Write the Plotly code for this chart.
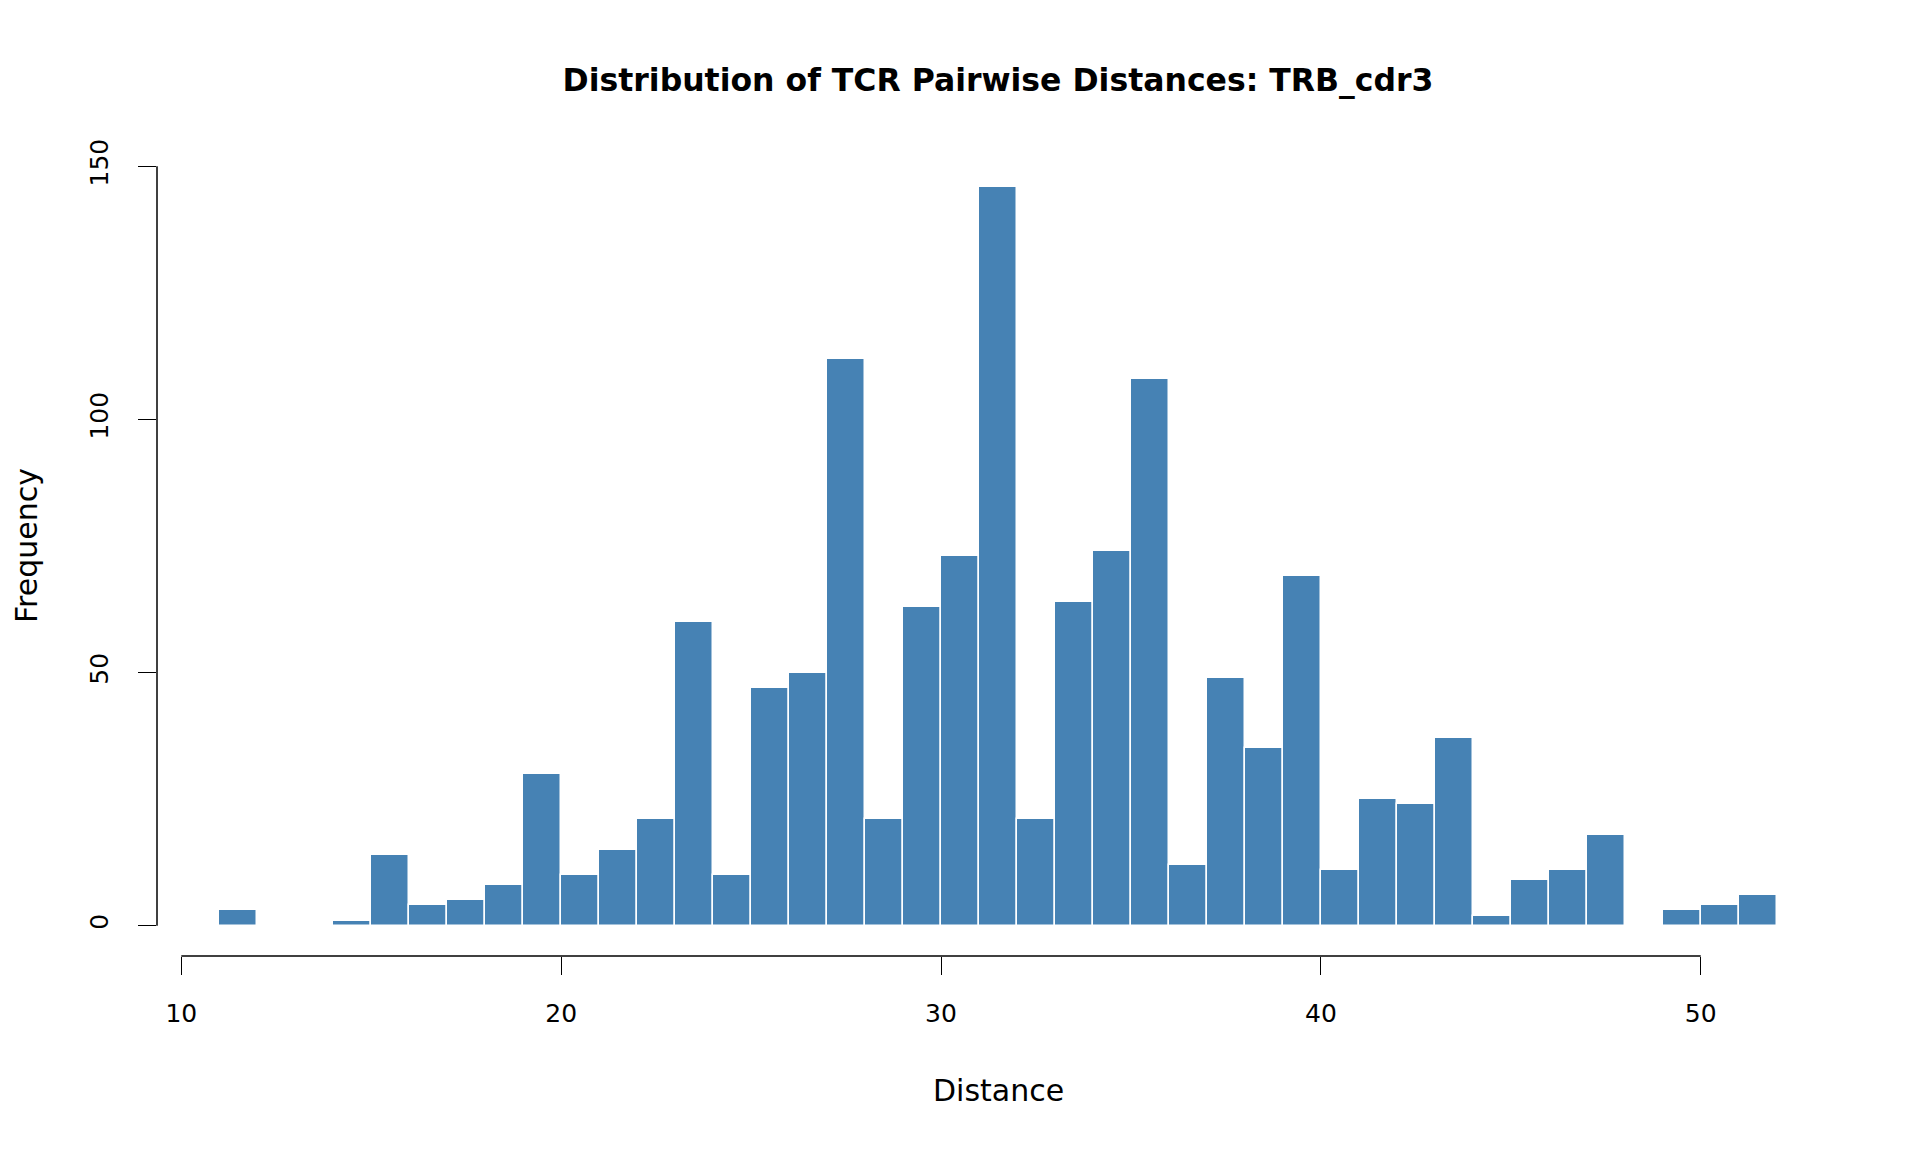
import plotly.graph_objects as go

bin_starts = list(range(11, 52))
counts = [3, 0, 0, 1, 14, 4, 5, 8, 30, 10, 15, 21, 60, 10, 47, 50, 112, 21, 63, 73,
          146, 21, 64, 74, 108, 12, 49, 35, 69, 11, 25, 24, 37, 2, 9, 11, 18, 0, 3, 4, 6]
x_ticks = [10, 20, 30, 40, 50]
y_ticks = [0, 50, 100, 150]

centers = [b + 0.5 for b in bin_starts]
FONT = "DejaVu Sans"
OFF = 8  # page body margin

L, R, T, B = 157 - OFF, 1839 - OFF, 136 - OFF, 956 - OFF
W, H = 1920, 1152

fig = go.Figure()
fig.add_trace(go.Bar(
    x=centers, y=counts, width=[1] * len(centers),
    marker=dict(color="#4682B4", line=dict(color="white", width=1.5)),
    hoverinfo="x+y",
))

fig.update_layout(
    width=W, height=H,
    margin=dict(l=L, r=W - R, t=T, b=H - B),
    paper_bgcolor="white", plot_bgcolor="white",
    showlegend=False,
    bargap=0,
    font=dict(family=FONT, color="black", size=25),
    title=dict(text="<b>Distribution of TCR Pairwise Distances: TRB_cdr3</b>",
               x=((L + R) / 2) / W, xanchor="center", y=1 - (80 - OFF) / H, yanchor="middle",
               font=dict(family=FONT, size=31.5, color="black")),
    xaxis=dict(range=[9.36, 53.64], showgrid=False, zeroline=False, showline=False,
               tickmode="array", tickvals=x_ticks, ticktext=[str(v) for v in x_ticks],
               ticks="outside", ticklen=18, tickwidth=1.2, tickcolor="black",
               ticklabelstandoff=17, tickfont=dict(size=25)),
    yaxis=dict(range=[-6, 156], showgrid=False, zeroline=False, showline=False,
               tickmode="array", tickvals=y_ticks, ticktext=[str(v) for v in y_ticks],
               ticks="outside", ticklen=18, tickwidth=1.2, tickcolor="black",
               tickangle=-90, ticklabelstandoff=20, tickfont=dict(size=25)),
)

# R-style detached axis lines
fig.add_shape(type="line", xref="x", yref="paper", x0=10, x1=50, y0=0, y1=0,
              line=dict(color="black", width=1.5))
fig.add_shape(type="line", xref="paper", yref="y", x0=0, x1=0, y0=0, y1=150,
              line=dict(color="black", width=1.5))

fig.add_annotation(text="Distance", xref="paper", yref="paper",
                   x=0.5, y=-(1090 - 956) / (B - T), xanchor="center", yanchor="middle",
                   showarrow=False, font=dict(family=FONT, size=30))
fig.add_annotation(text="Frequency", xref="paper", yref="paper",
                   x=-(157 - 26) / (R - L), y=0.5, xanchor="center", yanchor="middle",
                   textangle=-90, showarrow=False, font=dict(family=FONT, size=30))

fig.write_html("out.html")
